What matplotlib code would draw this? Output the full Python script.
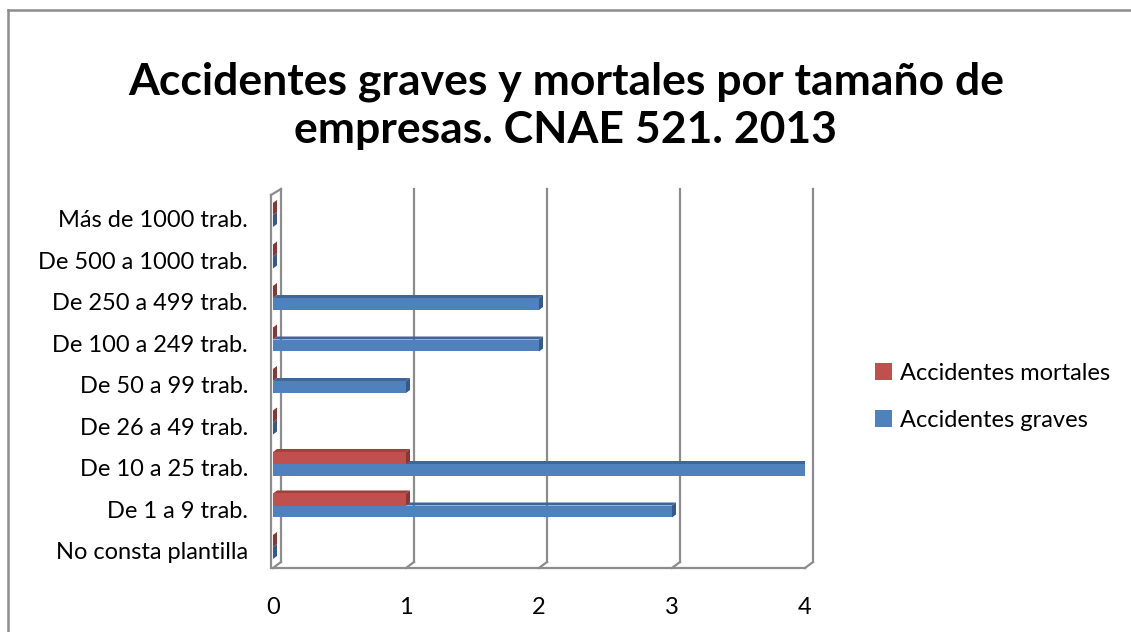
import matplotlib
matplotlib.use("Agg")
import matplotlib.pyplot as plt
from matplotlib.patches import Polygon, Rectangle, Patch
from matplotlib.lines import Line2D

categories = ["No consta plantilla", "De 1 a 9 trab.", "De 10 a 25 trab.",
              "De 26 a 49 trab.", "De 50 a 99 trab.", "De 100 a 249 trab.",
              "De 250 a 499 trab.", "De 500 a 1000 trab.", "Más de 1000 trab."]
graves = [0, 3, 4, 0, 1, 2, 2, 0, 0]
mortales = [0, 1, 1, 0, 0, 0, 0, 0, 0]
xticks = [0, 1, 2, 3, 4]
title_lines = ["Accidentes graves y mortales por tamaño de", "empresas. CNAE 521. 2013"]

RED, RED_D, RED_T = "#C0504D", "#8C3633", "#A13F3C"
BLUE, BLUE_D, BLUE_T = "#4F81BD", "#34598A", "#3E6699"
GRID = "#8C8C8C"
FONT = "Lato"

W, H = 1131, 632
fig = plt.figure(figsize=(W / 100, H / 100), dpi=100)
# axes box (front plane) in pixels
L, R, T, B = 273, 805, 195, 568
ax = fig.add_axes([L / W, (H - B) / H, (R - L) / W, (B - T) / H])
xmin, xmax = 0, 4
ylo, yhi = -0.41, 8.578
ax.set_xlim(xmin, xmax)
ax.set_ylim(ylo, yhi)
ppx = (R - L) / (xmax - xmin)
ppy = (B - T) / (yhi - ylo)

# back plane offset (px)
bx, by = 8 / ppx, 6 / ppy
# bar depth offset (px)
dx, dy = 4 / ppx, 3 / ppy

# walls and gridlines
for x in xticks:
    ax.plot([x + bx, x + bx], [ylo + by, yhi + by], color=GRID, lw=1.6, zorder=1, clip_on=False)
    ax.plot([x, x + bx], [ylo, ylo + by], color=GRID, lw=1.6, zorder=1, clip_on=False)
ax.plot([xmin, xmax], [ylo, ylo], color=GRID, lw=1.6, zorder=1, clip_on=False)
ax.plot([xmin - 2 / ppx] * 2, [ylo, yhi], color=GRID, lw=1.6, zorder=1, clip_on=False)
ax.plot([xmin - 2 / ppx, xmin + bx], [yhi, yhi + by], color=GRID, lw=1.6, zorder=1, clip_on=False)

ypos = list(range(len(categories)))
blue_lo, blue_hi = -0.193, 0.096
red_lo, red_hi = 0.096, 0.386


def faces(v, y0, y1, front, top, side, z):
    if v > 0:
        ax.add_patch(Rectangle((0, y0), v, y1 - y0, facecolor=front, edgecolor="none", zorder=z + 0.2))
        ax.add_patch(Polygon([(0, y1), (v, y1), (v + dx, y1 + dy), (dx, y1 + dy)],
                             closed=True, facecolor=top, edgecolor="none", zorder=z))
    ax.add_patch(Polygon([(v, y0), (v, y1), (v + dx, y1 + dy), (v + dx, y0 + dy)],
                         closed=True, facecolor=side, edgecolor="none", zorder=z + 0.1))


for y, g, m in zip(ypos, graves, mortales):
    faces(g, y + blue_lo, y + blue_hi, BLUE, BLUE_T, BLUE_D, 3)
    faces(m, y + red_lo, y + red_hi, RED, RED_T, RED_D, 4)

ax.set_yticks(ypos)
ax.set_yticklabels(categories, fontsize=17, family=FONT)
ax.set_xticks(xticks)
ax.set_xticklabels([str(t) for t in xticks], fontsize=17, family=FONT)
ax.tick_params(length=0)
ax.tick_params(axis="y", pad=18)
ax.tick_params(axis="x", pad=21)
for s in ax.spines.values():
    s.set_visible(False)
ax.patch.set_visible(False)

for line, yc in zip(title_lines, [78, 127]):
    fig.text(566 / W, 1 - yc / H, line, ha="center", va="center_baseline", fontsize=32,
             fontweight="bold", family=FONT)

handles = [Patch(facecolor=RED, label="Accidentes mortales"),
           Patch(facecolor=BLUE, label="Accidentes graves")]
fig.legend(handles=handles, loc="center left", bbox_to_anchor=(854 / W, 1 - 397 / H),
           frameon=False, prop={"family": FONT, "size": 17}, handlelength=0.7,
           handleheight=0.7, handletextpad=0.35, labelspacing=1.1)

fig.add_artist(Line2D([8 / W, 8 / W], [0, 1 - 10 / H], transform=fig.transFigure,
                      color=GRID, lw=1.8))
fig.add_artist(Line2D([8 / W, 1], [1 - 10 / H, 1 - 10 / H], transform=fig.transFigure,
                      color=GRID, lw=1.8))

fig.savefig("out.png", dpi=100)
